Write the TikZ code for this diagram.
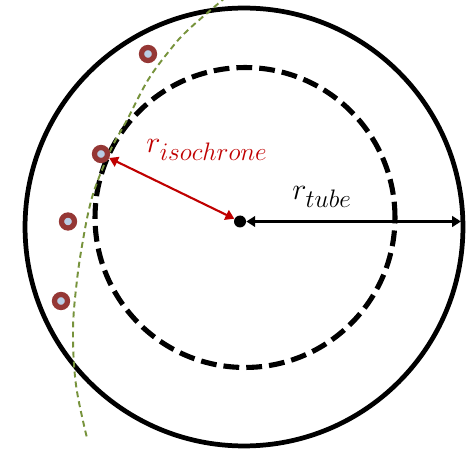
\documentclass[tikz,border=0pt]{standalone}
\usepackage{xcolor}
\usepackage{tikz}
\usetikzlibrary{arrows.meta,positioning,calc}
\definecolor{ink}{HTML}{000000}
\definecolor{cred}{HTML}{C00000}
\definecolor{cring}{HTML}{953735}
\definecolor{cfill}{HTML}{B9CDE5}
\definecolor{cgreen}{HTML}{77933C}

\tikzset{
  sample/.style={circle,draw=cring,fill=cfill,line width=3pt,minimum size=0.26cm,inner sep=0pt},
  radial/.style={{Triangle[length=5pt,width=6pt]}-{Triangle[length=5pt,width=6pt]},line width=1.2pt},
  lbl/.style={font=\fontsize{19}{21}\selectfont}
}

\begin{document}
\begin{tikzpicture}[x=0.02cm,y=-0.02cm]
  \useasboundingbox (0,0) rectangle (466,452);
  % tube and isochrone
  \draw[ink,line width=2.7pt] (244,227) circle [radius=4.38cm];
  \draw[ink,line width=2.9pt,dash pattern=on 9pt off 4pt] (245,217.5) circle [radius=3cm];
  % front
  \draw[cgreen,line width=1.1pt,dash pattern=on 3.4pt off 2.3pt] plot[smooth,tension=0.6] coordinates
    {(226,-3) (188,30) (170,50) (148,80) (127,120) (112,147) (98,180) (90,205) (83,240) (77,280) (73,330) (76,385) (87,438)};
  \node[circle,fill=ink,minimum size=0.24cm,inner sep=0pt] (ctr) at (240,221.5) {};
  \foreach \n/\x/\y in {1/148/54, 2/101/154, 3/68/221.5, 4/61/301}{
    \node[sample] (s\n) at (\x,\y) {};
  }
  \coordinate (tubeend) at (461,221.5);
  \draw[radial,cred] (s2) -- (ctr);
  \draw[radial,ink] (ctr) -- (tubeend);
  \node[lbl,text=cred] (riso) at (207,150) {$r_{isochrone}$};
  \node[lbl,text=ink] (rtube) at (322,197) {$r_{tube}$};
\end{tikzpicture}
\end{document}
